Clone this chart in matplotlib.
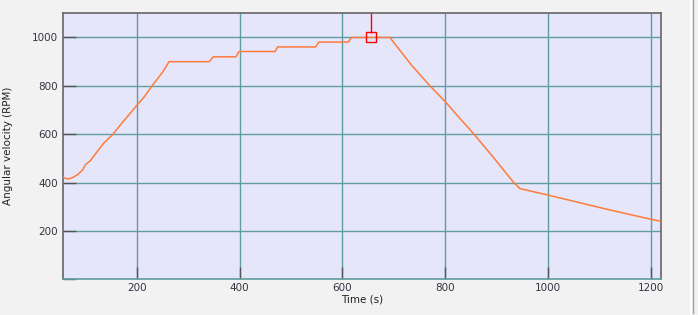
import matplotlib
matplotlib.use("Agg")
import matplotlib.pyplot as plt
from matplotlib.lines import Line2D

# speed trace
time_s = [57, 62, 67, 75, 85, 95, 101, 110, 122, 135, 154, 175, 200, 215, 230, 250, 258, 263,
          341, 349, 393, 399, 469, 474, 548, 554, 611, 618, 692,
          734, 770, 800, 822, 854, 896, 932, 945, 1000, 1113, 1200, 1219]
rpm = [422, 417, 415, 420, 432, 452, 475, 490, 524, 560, 600, 655, 718, 755, 800, 855, 882, 900,
       900, 920, 920, 942, 942, 961, 961, 981, 981, 1000, 1000,
       886, 800, 734, 680, 604, 497, 402, 375, 348, 290, 248, 240]

cursor_t = 656
cursor_rpm = 1000

x_ticks = [200, 400, 600, 800, 1000, 1200]
y_ticks = [0, 200, 400, 600, 800, 1000]
y_tick_labels = ['', '200', '400', '600', '800', '1000']

fig = plt.figure(figsize=(6.98, 3.15), dpi=100, facecolor='#f2f2f2')
W, H = 698, 315
ax = fig.add_axes([63 / W, 1 - 279.3 / H, (661.3 - 63) / W, (279.3 - 13.3) / H])
ax.set_facecolor('#e6e6fa')

ax.set_xlim(57, 1219.5)
ax.set_ylim(0, 1100)

ax.set_xticks(x_ticks)
ax.set_yticks(y_ticks)
ax.set_yticklabels(y_tick_labels)
ax.grid(True, color='#5f9ea0', linewidth=1.0, zorder=0)
ax.set_axisbelow(True)

ax.tick_params(axis='y', direction='in', length=9.4, width=1.0, color='#555555',
               labelsize=7.5, labelcolor='#333344', pad=3.5)
ax.tick_params(axis='x', direction='in', length=8.6, width=1.0, color='#555555',
               labelsize=7.5, labelcolor='#333344', pad=3.0)

for side in ['top', 'right', 'left']:
    ax.spines[side].set_color('#666666')
    ax.spines[side].set_linewidth(1.2)
ax.spines['bottom'].set_color('#5f9ea0')
ax.spines['bottom'].set_linewidth(1.2)

ax.plot(time_s, rpm, color='#ff7b3a', linewidth=1.1, zorder=3)

# cursor
ax.vlines(cursor_t, cursor_rpm + 20, 1100, color='red', linewidth=1.0, zorder=4)
ax.plot([cursor_t], [cursor_rpm], marker='s', markersize=7.5, markerfacecolor='none',
        markeredgecolor='red', markeredgewidth=1.0, zorder=5)

ax.set_xlabel('Time (s)', fontsize=7.5, color='#222222', labelpad=1)
ax.set_ylabel('Angular velocity (RPM)', fontsize=7.5, color='#222222', labelpad=14)

# panel edge on the right
fig.add_artist(Line2D([690.5 / W, 690.5 / W], [0, 1], color='white', linewidth=1.5))
fig.add_artist(Line2D([692.5 / W, 692.5 / W], [2 / H, 1], color='#a0a0a0', linewidth=1.0))

fig.savefig('out.png', dpi=100, facecolor=fig.get_facecolor())
